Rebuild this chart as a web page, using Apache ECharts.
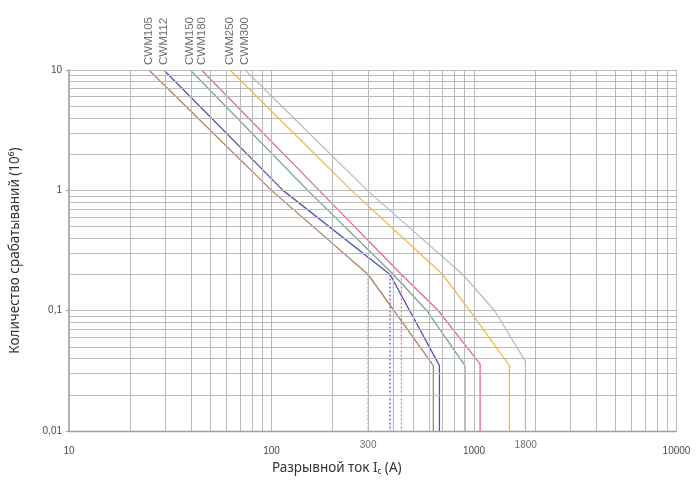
<!DOCTYPE html>
<html>
<head>
<meta charset="utf-8">
<script src="https://cdn.jsdelivr.net/npm/echarts@6/dist/echarts.min.js"></script>
<style>
html,body{margin:0;padding:0;background:#fff;}
#chart{width:696px;height:481px;}
</style>
</head>
<body>
<div id="chart"></div>
<script>
// Breaking current (A) and number of operations (10^6) for each contactor
const modelNames = ['CWM105', 'CWM112', 'CWM150', 'CWM180', 'CWM250', 'CWM300'];
const current105 = [24.8, 100, 300, 630, 630];
const ops105     = [10, 1, 0.2, 0.035, 0.01];
const current112 = [29.4, 114, 385, 675, 675];
const ops112     = [10, 1, 0.2, 0.035, 0.01];
const current150 = [39.7, 151, 400, 585, 902, 902];
const ops150     = [10, 1, 0.2, 0.1, 0.035, 0.01];
const current180 = [45.1, 172, 438, 667, 1072, 1072];
const ops180     = [10, 1, 0.2, 0.1, 0.036, 0.01];
const current250 = [62.4, 248, 700, 953, 1496, 1496];
const ops250     = [10, 1, 0.2, 0.1, 0.035, 0.01];
const current300 = [74, 297, 880, 1265, 1795, 1795];
const ops300     = [10, 1, 0.2, 0.1, 0.038, 0.01];

// dotted drop lines from the knee points
const dropCurrents = [300, 385, 400, 438];
const dropTopOps   = [0.2, 0.2, 0.2, 0.2];
const dropBottomOps = [0.01, 0.01, 0.01, 0.01];

// extra x tick labels
const extraTickValues = [300, 1800];

// log-paper grid lines
const xGridValues = [20,30,40,50,60,70,80,90,100,200,300,400,500,600,700,800,900,1000,2000,3000,4000,5000,6000,7000,8000,9000,10000];
const yGridValues = [0.02,0.03,0.04,0.05,0.06,0.07,0.08,0.09,0.1,0.2,0.3,0.4,0.5,0.6,0.7,0.8,0.9,1,2,3,4,5,6,7,8,9,10];

const curveCurrents = [current105, current112, current150, current180, current250, current300];
const curveOps = [ops105, ops112, ops150, ops180, ops250, ops300];
const colors = ['#b57f60', '#5a4db8', '#72a882', '#e4649b', '#f5b73e', '#b9bacb'];

function zip(a, b) { return a.map((v, i) => [v, b[i]]); }

const chart = echarts.init(document.getElementById('chart'), null, {renderer: 'canvas'});

const series = [];
series.push({
  type: 'line', name: 'grid', data: [], z: 1, silent: true,
  markLine: {
    silent: true, symbol: 'none', animation: false,
    label: {show: false},
    lineStyle: {type: 'solid', color: '#bababd', width: 1},
    data: xGridValues.map(v => ({xAxis: v})).concat(yGridValues.map(v => ({yAxis: v})))
  }
});
curveCurrents.forEach((cx, i) => {
  series.push({
    type: 'line', name: modelNames[i], data: zip(cx, curveOps[i]),
    showSymbol: false, symbol: 'none', z: 3, animation: false,
    lineStyle: {color: colors[i], width: 1.3}
  });
});
dropCurrents.forEach((c, i) => {
  series.push({
    type: 'line', data: [[c, dropTopOps[i]], [c, dropBottomOps[i]]],
    showSymbol: false, symbol: 'none', z: 2, animation: false,
    lineStyle: {color: colors[i], width: 1.2, type: [2, 2]}
  });
});
// model name labels above the curve tops
series.push({
  type: 'scatter', z: 4, animation: false, silent: true, clip: false,
  symbol: 'circle', symbolSize: 2, itemStyle: {color: 'rgba(255,255,255,0)'},
  data: curveCurrents.map((cx, i) => ({value: [cx[0], curveOps[i][0]], name: modelNames[i]})),
  label: {
    show: true, position: 'top', distance: 4, rotate: 90,
    align: 'left', verticalAlign: 'middle',
    formatter: p => p.name,
    fontFamily: 'Liberation Sans', fontSize: 11.5, color: '#4a4a4a'
  }
});
// extra x tick labels (300, 1800)
series.push({
  type: 'scatter', z: 4, animation: false, silent: true, clip: false,
  symbol: 'circle', symbolSize: 2, itemStyle: {color: 'rgba(255,255,255,0)'},
  data: extraTickValues.map(v => ({value: [v, 0.01], name: String(v)})),
  label: {
    show: true, position: 'bottom', distance: 8,
    formatter: p => p.name,
    fontFamily: 'Liberation Sans', fontSize: 10, color: '#4a4a4a'
  }
});

chart.setOption({
  animation: false,
  backgroundColor: '#ffffff',
  grid: {left: 64.5, right: 19.5, top: 70, bottom: 47.5, containLabel: false},
  xAxis: {
    type: 'log', logBase: 10, min: 10, max: 10000,
    name: 'Разрывной ток I{sub|c} (A)',
    nameLocation: 'middle', nameGap: 28,
    nameTextStyle: {
      fontFamily: 'Noto Sans', fontSize: 13.5, color: '#333', padding: [0, 72, 0, 0],
      rich: {sub: {fontFamily: 'Noto Sans', fontSize: 8, color: '#333', verticalAlign: 'bottom', padding: [8, 0, 0, 0]}}
    },
    axisLine: {show: true, lineStyle: {color: '#a0a0a0', width: 1.3}},
    axisTick: {show: false},
    splitLine: {show: false},
    axisLabel: {
      margin: 15, fontFamily: 'Liberation Sans', fontSize: 10, color: '#4a4a4a',
      formatter: v => String(Math.round(v))
    }
  },
  yAxis: {
    type: 'log', logBase: 10, min: 0.01, max: 10,
    name: 'Количество срабатываний (10⁶)',
    nameLocation: 'middle', nameGap: 47,
    nameTextStyle: {fontFamily: 'Noto Sans', fontSize: 13.5, color: '#333'},
    axisLine: {show: true, lineStyle: {color: '#9a9a9a', width: 1.5}},
    axisTick: {show: true, length: 3, lineStyle: {color: '#9a9a9a'}},
    splitLine: {show: false},
    axisLabel: {
      margin: 7, fontFamily: 'Liberation Sans', fontSize: 10, color: '#4a4a4a',
      formatter: v => String(+(+v).toPrecision(6)).replace('.', ',')
    }
  },
  series: series
});
</script>
</body>
</html>
